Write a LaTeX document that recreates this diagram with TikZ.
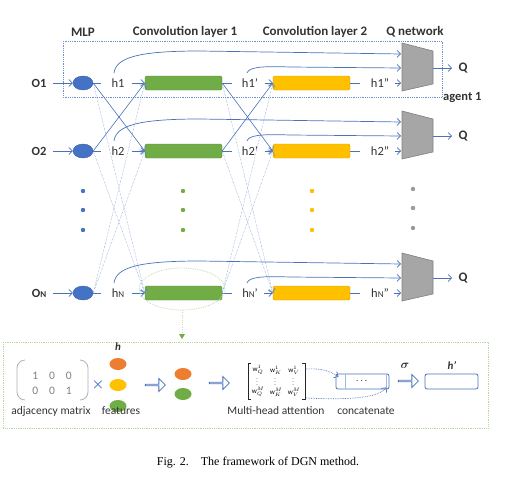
\documentclass[tikz,border=0pt]{standalone}
\usepackage{amsmath,amssymb}
\usepackage{fontspec}
\setmainfont{Carlito}
\newfontfamily\capfont{Liberation Serif}
\usepackage{tikz}
\usetikzlibrary{arrows.meta, shapes, calc}
\tikzset{>={Straight Barb[length = 3.5pt, width = 7pt]}}
\definecolor{linkblue}{RGB}{74,114,186}
\definecolor{mlpblue}{RGB}{68,114,196}
\definecolor{convgreen}{RGB}{112,173,71}
\definecolor{convorange}{RGB}{255,192,0}
\definecolor{qgray}{RGB}{166,166,166}
\definecolor{featorange}{RGB}{237,125,49}
\newcommand{\agentN}{{\small N}}
\tikzset{
  flow/.style = {->, draw = linkblue, line width = 0.7},
  stub/.style = {draw = linkblue, line width = 0.7},
  cross/.style = {->, draw = linkblue, line width = 0.6},
  faint/.style = {->, draw = linkblue!85, line width = 0.45, densely dotted},
  mlpdot/.style = {ellipse, fill = mlpblue, draw = mlpblue!85!black, minimum width = 20, minimum height = 14, inner sep = 0},
  convbar/.style = {rectangle, rounded corners = 1.5, minimum width = 77, minimum height = 14, inner sep = 0},
  feat/.style = {ellipse, minimum width = 17, minimum height = 12, inner sep = 0},
  lbl/.style = {text = black!80, font = \fontsize{12.5}{14}\selectfont},
  blbl/.style = {text = black!80, font = \bfseries\fontsize{12.5}{14}\selectfont},
  sublbl/.style = {text = black!80, font = \fontsize{11.5}{13}\selectfont, inner sep = 1},
  title/.style = {text = black!80, font = \bfseries\fontsize{13}{15}\selectfont},
  wlbl/.style = {font = \scriptsize, inner sep = 0},
  hollow/.style = {single arrow, draw = linkblue, line width = 0.8, minimum height = 20, minimum width = 13, single arrow head extend = 3, inner sep = 0},
  cbox/.style = {draw = linkblue, rounded corners = 2, minimum width = 53, minimum height = 15, line width = 0.8, inner sep = 0}
}

\begin{document}
\begin{tikzpicture}[x = 1pt, y = -1pt]
\useasboundingbox (0,0) rectangle (514,482);

\node[title] (tmlp) at (83,32) {MLP};
\node[title] (tconvA) at (185,32) {Convolution layer 1};
\node[title] (tconvB) at (315,32) {Convolution layer 2};
\node[title] (tq) at (415,32) {Q network};

\draw[linkblue!80, densely dotted, line width = 0.8] (63,41) rectangle (442,97);
\node[blbl, anchor = west, inner sep = 1] (agent) at (442,97) {agent 1};

\foreach \i/\y/\s in {1/83/1, 2/151/2, N/293/\agentN} {
  \node[blbl] (o\i) at (39,\y) {O\s};
  \node[mlpdot] (mlp\i) at (83,\y) {};
  \node[lbl] (h\i) at (118,\y) {h\s};
  \node[convbar, fill = convgreen, draw = convgreen!80!black] (cA\i) at (183.5,\y) {};
  \node[lbl] (hA\i) at (250,\y) {h\s'};
  \node[convbar, fill = convorange, draw = convorange!85!black] (cB\i) at (311.5,\y) {};
  \node[lbl] (hB\i) at (380,\y) {h\s''};
  \draw[fill = qgray, draw = gray, line width = 0.6] (402,\y-40) -- (433,\y-32) -- (433,\y+1) -- (402,\y+8) -- cycle;
  \coordinate (qa\i) at (401,\y-29);
  \coordinate (qb\i) at (401,\y-15);
  \coordinate (qc\i) at (401,\y);
  \coordinate (qout\i) at (433,\y-15);
  \node[blbl, font = \bfseries\fontsize{13}{15}\selectfont] (q\i) at (463,\y-15) {Q};
  \draw[flow] ([xshift = 3]o\i.east) -- (mlp\i.west);
  \draw[stub] (mlp\i.east) -- ++(8,0);
  \draw[flow] ([xshift = 4]h\i.east) -- (cA\i.west);
  \draw[stub] (cA\i.east) -- ++(10,0);
  \draw[flow] ([xshift = 3]hA\i.east) -- (cB\i.west);
  \draw[stub] (cB\i.east) -- ++(10,0);
  \draw[flow] ([xshift = 2]hB\i.east) -- (qc\i);
  \draw[flow] (114,\y-10) .. controls (116,\y-26) and (140,\y-32) .. (200,\y-32) -- (qa\i);
  \draw[flow] (247,\y-10) .. controls (249,\y-16) and (262,\y-17) .. (290,\y-16) -- (qb\i);
  \draw[flow] (qout\i) -- ([xshift = -3]q\i.west);
}

\foreach \a/\b in {1/2, 2/1} {
  \draw[cross] (mlp\a.east) -- (cA\b.west);
  \draw[cross] (cA\a.east) -- (cB\b.west);
}
\foreach \a/\b in {1/N, 2/N, N/1, N/2} {
  \draw[faint] (mlp\a.east) -- (cA\b.west);
  \draw[faint] (cA\a.east) -- (cB\b.west);
}

\foreach \d in {191, 210, 230} {
  \fill[mlpblue] (83,\d) circle (2.2pt);
  \fill[convgreen] (183,\d) circle (2.2pt);
  \fill[convorange] (312,\d) circle (2.2pt);
  \fill[gray!80] (413,\d-2) circle (2.2pt);
}

\draw[convgreen!45, densely dotted, line width = 0.8] (182,289) ellipse (43pt and 21pt);
\draw[convgreen!45, dotted] (182,310) -- (182,334);
\fill[convgreen] (179,334) -- (185,334) -- (182,339) -- cycle;

\draw[convgreen!50, densely dotted, line width = 0.8] (3,342) rectangle (488,428);

\node[text = gray, font = \fontsize{11.5}{15}\selectfont] (adj) at (52,384) {\setlength{\tabcolsep}{5.5pt}\begin{tabular}{ccc}1&0&0\\0&0&1\end{tabular}};
\draw[gray!60, line width = 0.8, rounded corners = 8] (25,360) -- (17,360) -- (17,400) -- (25,400);
\draw[gray!60, line width = 0.8, rounded corners = 8] (80,360) -- (88,360) -- (88,400) -- (80,400);
\node[sublbl] (adjtext) at (51,411) {adjacency matrix};
\node[text = mlpblue, font = \bfseries\fontsize{14}{14}\selectfont] (times) at (98,385) {$\boldsymbol{\times}$};

\node[text = black!80, font = \bfseries\itshape\fontsize{11}{12}\selectfont] (hfeat) at (118,347) {h};
\node[feat, fill = featorange] (fa) at (118,364) {};
\node[feat, fill = convorange] (fb) at (118,385) {};
\node[feat, fill = convgreen] (fc) at (118,406) {};
\node[sublbl] (feattext) at (121,411) {features};

\node[hollow] (arrA) at (155,385) {};
\node[feat, fill = featorange] (ga) at (183,374) {};
\node[feat, fill = convgreen] (gb) at (183,394) {};
\node[hollow] (arrB) at (219,383) {};

\foreach \c/\x in {Q/258, K/276, V/294} {
  \node[wlbl] (wtop\c) at (\x,370) {$\mathrm{w}_\c^1$};
  \node[wlbl] (wbot\c) at (\x,392) {$\mathrm{w}_\c^M$};
  \foreach \e in {378.5, 381.5, 384.5}
    \fill[black!80] (\x-1,\e) circle (0.45pt);
}
\draw[black!85, line width = 0.7] (251,363) -- (248,363) -- (248,399) -- (251,399);
\draw[black!85, line width = 0.7] (302,363) -- (305,363) -- (305,399) -- (302,399);
\coordinate (wtop) at (306,369);
\coordinate (wbot) at (306,398);
\node[sublbl] (wtext) at (276,411) {Multi-head attention};

\node[cbox] (concat) at (362.5,381.5) {$\cdots$};
\draw[linkblue!50] ([xshift = 10]concat.north west) -- ([xshift = 10]concat.south west);
\draw[linkblue!50] ([xshift = -3]concat.north east) -- ([xshift = -3]concat.south east);
\node[sublbl] (ctext) at (366,411) {concatenate};
\draw[->, linkblue, densely dotted, line width = 0.7] (wtop) .. controls (325,368) and (330,372) .. ([xshift = 3, yshift = -3]concat.north west);
\draw[->, linkblue, densely dotted, line width = 0.7] (wbot) .. controls (350,400) and (378,398) .. ([xshift = -3, yshift = 2]concat.south east);

\node[hollow] (arrC) at (408,381) {};
\node[text = black!80, font = \fontsize{12}{12}\selectfont] (sigma) at (405,366) {$\boldsymbol{\sigma}$};
\node[cbox] (hout) at (451.5,381.5) {};
\node[text = black!80, font = \bfseries\itshape\fontsize{11}{12}\selectfont] (houttext) at (452,366) {h'};

\node[font = \capfont\fontsize{12}{14}\selectfont] (caption) at (258,463) {Fig. 2.\quad The framework of DGN method.};
\end{tikzpicture}
\end{document}
